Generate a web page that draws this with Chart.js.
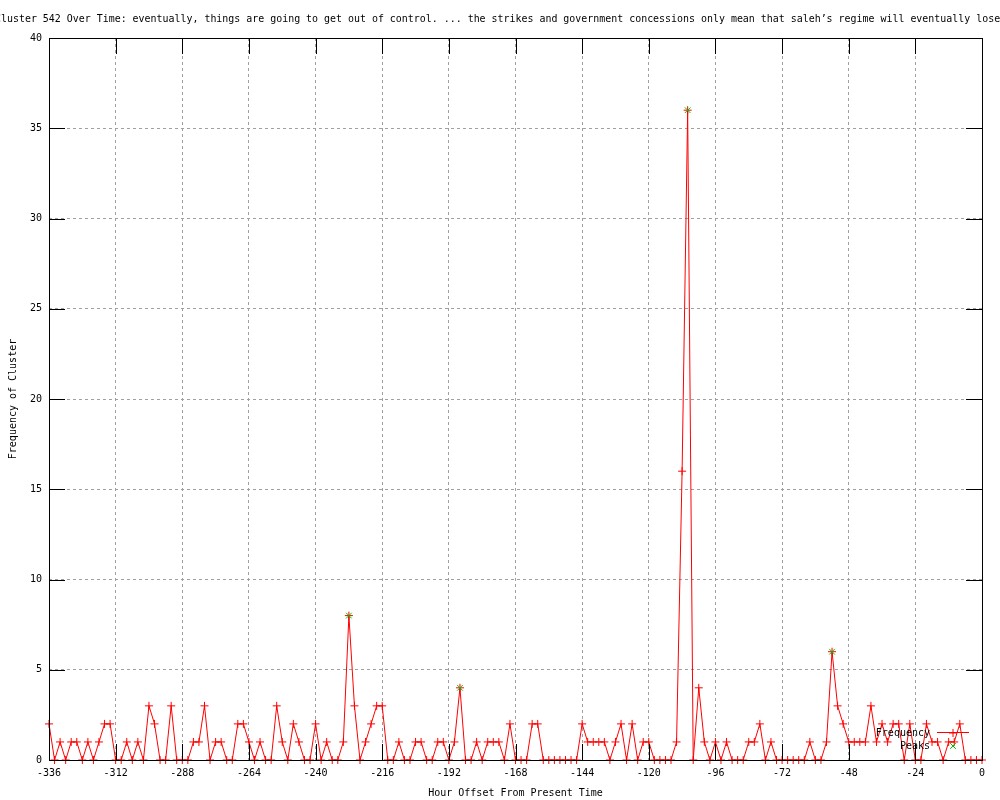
<!DOCTYPE html>
<html>
<head>
<meta charset="utf-8">
<script src="https://cdn.jsdelivr.net/npm/chart.js"></script>
<style>
  body { margin: 0; background: #fff; }
  #wrap { width: 1000px; height: 800px; }
</style>
</head>
<body>
<div id="wrap"><canvas id="cluster-chart" width="1000" height="800"></canvas></div>
<script>
const titleText = 'Cluster 542 Over Time: eventually, things are going to get out of control. ... the strikes and government concessions only mean that saleh\u2019s regime will eventually lose';

const hours = [
  -336,-334,-332,-330,-328,-326,-324,-322,-320,-318,-316,-314,
  -312,-310,-308,-306,-304,-302,-300,-298,-296,-294,-292,-290,
  -288,-286,-284,-282,-280,-278,-276,-274,-272,-270,-268,-266,
  -264,-262,-260,-258,-256,-254,-252,-250,-248,-246,-244,-242,
  -240,-238,-236,-234,-232,-230,-228,-226,-224,-222,-220,-218,
  -216,-214,-212,-210,-208,-206,-204,-202,-200,-198,-196,-194,
  -192,-190,-188,-186,-184,-182,-180,-178,-176,-174,-172,-170,
  -168,-166,-164,-162,-160,-158,-156,-154,-152,-150,-148,-146,
  -144,-142,-140,-138,-136,-134,-132,-130,-128,-126,-124,-122,
  -120,-118,-116,-114,-112,-110,-108,-106,-104,-102,-100,-98,
  -96,-94,-92,-90,-88,-86,-84,-82,-80,-78,-76,-74,
  -72,-70,-68,-66,-64,-62,-60,-58,-56,-54,-52,-50,
  -48,-46,-44,-42,-40,-38,-36,-34,-32,-30,-28,-26,
  -24,-22,-20,-18,-16,-14,-12,-10,-8,-6,-4,-2,
  0
];

const frequency = [
  2,0,1,0,1,1,0,1,0,1,2,2,
  0,0,1,0,1,0,3,2,0,0,3,0,
  0,0,1,1,3,0,1,1,0,0,2,2,
  1,0,1,0,0,3,1,0,2,1,0,0,
  2,0,1,0,0,1,8,3,0,1,2,3,
  3,0,0,1,0,0,1,1,0,0,1,1,
  0,1,4,0,0,1,0,1,1,1,0,2,
  0,0,0,2,2,0,0,0,0,0,0,0,
  2,1,1,1,1,0,1,2,0,2,0,1,
  1,0,0,0,0,1,16,36,0,4,1,0,
  1,0,1,0,0,0,1,1,2,0,1,0,
  0,0,0,0,0,1,0,0,1,6,3,2,
  1,1,1,1,3,1,2,1,2,2,0,2,
  0,0,2,1,1,0,1,1,2,0,0,0,
  0
];

const peakHours = [-228, -188, -106, -54];
const peakValues = [8, 4, 36, 6];

const xTicks = { min: -336, max: 0, step: 24 };
const yTicks = { min: 0, max: 40, step: 5 };

const FONT = 'DejaVu Sans Mono';

// gnuplot style frame: solid border with inward ticks on all four sides, drawn over the data
const framePlugin = {
  id: 'frame',
  afterDatasetsDraw(chart) {
    const { ctx, chartArea: a, scales: { x, y } } = chart;
    const len = 16;
    ctx.save();
    ctx.strokeStyle = '#000';
    ctx.lineWidth = 1;
    ctx.beginPath();
    x.ticks.forEach(t => {
      const px = Math.round(x.getPixelForValue(t.value)) + 0.5;
      ctx.moveTo(px, a.bottom); ctx.lineTo(px, a.bottom - len);
      ctx.moveTo(px, a.top); ctx.lineTo(px, a.top + len);
    });
    y.ticks.forEach(t => {
      const py = Math.round(y.getPixelForValue(t.value)) + 0.5;
      ctx.moveTo(a.left, py); ctx.lineTo(a.left + len, py);
      ctx.moveTo(a.right, py); ctx.lineTo(a.right - len, py);
    });
    ctx.stroke();
    ctx.strokeRect(Math.round(a.left) + 0.5, Math.round(a.top) + 0.5,
                   Math.round(a.right - a.left), Math.round(a.bottom - a.top));
    ctx.restore();
  }
};

// title (wider than the canvas, so it runs off both edges) and in-plot key
const textPlugin = {
  id: 'texts',
  afterDraw(chart) {
    const ctx = chart.ctx;
    ctx.save();
    ctx.fillStyle = '#000';
    ctx.font = '9.95px ' + FONT;
    ctx.textBaseline = 'middle';
    ctx.textAlign = 'left';
    ctx.fillText(titleText, -5, 19);

    ctx.font = '10px ' + FONT;
    ctx.textAlign = 'right';
    const sets = chart.data.datasets;
    const rows = [{ ds: sets[0], y: 733 }, { ds: sets[1], y: 746 }];
    rows.forEach(r => {
      ctx.fillStyle = '#000';
      ctx.fillText(r.ds.label, 930, r.y);
      ctx.strokeStyle = r.ds.borderColor;
      ctx.lineWidth = 1;
      ctx.beginPath();
      if (r.ds.showLine !== false) {
        ctx.moveTo(937, r.y - 0.5); ctx.lineTo(969, r.y - 0.5);
      }
      ctx.stroke();
      Chart.helpers.drawPoint(ctx, {
        pointStyle: r.ds.pointStyle, radius: r.ds.pointRadius, borderWidth: 1
      }, 953, r.y);
    });
    ctx.restore();
  }
};

new Chart(document.getElementById('cluster-chart'), {
  type: 'line',
  data: {
    datasets: [{
      label: 'Frequency',
      data: hours.map((h, i) => ({ x: h, y: frequency[i] })),
      borderColor: '#ff0000',
      backgroundColor: '#ff0000',
      borderWidth: 1,
      pointStyle: 'cross',
      pointRadius: 4,
      pointBorderWidth: 1,
      pointBorderColor: '#ff0000',
      tension: 0,
      clip: false,
      order: 1
    }, {
      label: 'Peaks',
      data: peakHours.map((h, i) => ({ x: h, y: peakValues[i] })),
      showLine: false,
      borderColor: '#00c000',
      backgroundColor: '#00c000',
      pointStyle: 'crossRot',
      pointRadius: 4,
      pointBorderWidth: 1,
      pointBorderColor: '#00c000',
      clip: false,
      order: 0
    }]
  },
  options: {
    responsive: false,
    animation: false,
    events: [],
    layout: { padding: { top: 38, right: 18, bottom: 0, left: 0 } },
    plugins: {
      legend: { display: false },
      tooltip: { enabled: false },
      title: { display: false }
    },
    scales: {
      x: {
        type: 'linear',
        min: xTicks.min,
        max: xTicks.max,
        afterFit(scale) { scale.height = 40; },
        ticks: {
          stepSize: xTicks.step,
          padding: 7,
          color: '#000',
          font: { family: FONT, size: 10 },
          maxRotation: 0,
          autoSkip: false
        },
        grid: { color: '#a0a0a0', lineWidth: 1, drawTicks: false },
        border: { display: false, dash: [3, 3] },
        title: {
          display: true,
          text: 'Hour Offset From Present Time',
          color: '#000',
          font: { family: FONT, size: 10 },
          padding: { top: 0, bottom: 1 }
        }
      },
      y: {
        min: yTicks.min,
        max: yTicks.max,
        afterFit(scale) { scale.width = 49; },
        ticks: {
          stepSize: yTicks.step,
          padding: 7,
          color: '#000',
          font: { family: FONT, size: 10 }
        },
        grid: { color: '#a0a0a0', lineWidth: 1, drawTicks: false },
        border: { display: false, dash: [3, 3] },
        title: {
          display: true,
          text: 'Frequency of Cluster',
          color: '#000',
          font: { family: FONT, size: 10 },
          padding: { top: 7, bottom: 0 }
        }
      }
    }
  },
  plugins: [framePlugin, textPlugin]
});
</script>
</body>
</html>
